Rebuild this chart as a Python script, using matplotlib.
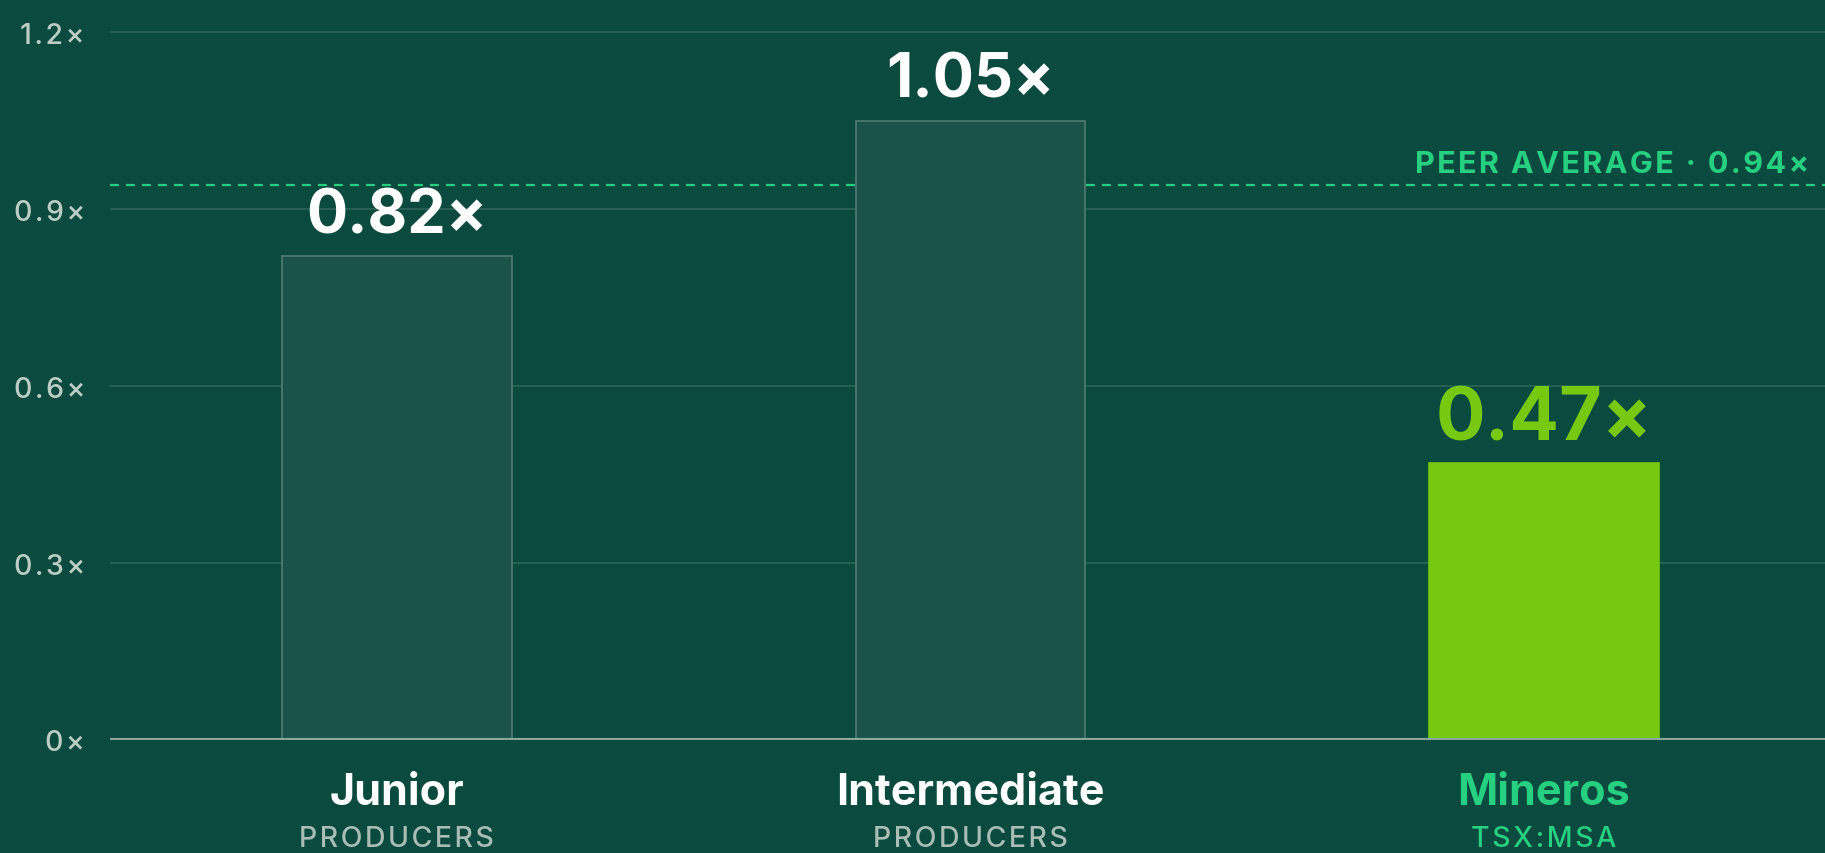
import numpy as np
import matplotlib
matplotlib.use("Agg")
import matplotlib.pyplot as plt

plt.rcParams['font.family'] = ['Inter', 'DejaVu Sans']

# data
categories = ["Junior", "Intermediate", "Mineros"]
sublabels = ["PRODUCERS", "PRODUCERS", "TSX:MSA"]
values = [0.82, 1.05, 0.47]
value_labels = ["0.82×", "1.05×", "0.47×"]
peer_avg = 0.94
yticks = [0, 0.3, 0.6, 0.9, 1.2]
ytick_labels = ["0×", "0.3×", "0.6×", "0.9×", "1.2×"]
highlight = 2

bg = "#0b4a3e"
green = "#76c811"
mint = "#27cf80"
HAIR = "\u200a"


def track(s):
    # poor man's letter spacing
    return HAIR.join(s)


fig = plt.figure(figsize=(18.25, 8.54), dpi=100, facecolor=bg)
ax = fig.add_axes([110/1825, 113/854, 1715/1825, 741/854])
ax.set_facecolor(bg)

x = np.arange(len(categories))
face = ["#1b5249"] * len(categories)
edge = ["#4f7c72"] * len(categories)
face[highlight] = green
edge[highlight] = green
ax.bar(x, values, width=0.4, color=face, edgecolor=edge, linewidth=1.2, zorder=3)

ax.set_xlim(-0.5, 2.49)
ax.set_ylim(0, 1.256)

# grid
for t in yticks[1:]:
    ax.axhline(t, color="#ffffff", alpha=0.12, linewidth=1.5, zorder=1)
ax.axhline(0, color="#8aa79f", linewidth=3, zorder=4)

ax.set_yticks(yticks)
ax.set_yticklabels([track(t) for t in ytick_labels], fontweight="medium")
ax.tick_params(axis='y', length=0, pad=18, labelsize=20.5, labelcolor="#bccdc6")
ax.set_xticks([])
for s in ax.spines.values():
    s.set_visible(False)

# peer average line
ax.axhline(peer_avg, color=mint, linewidth=1.6, linestyle=(0, (4, 3.2)), zorder=2)
ax.annotate(track("PEER AVERAGE · %.2f×" % peer_avg), xy=(0.991, peer_avg),
            xycoords=ax.get_yaxis_transform(), xytext=(0, 10), textcoords="offset points",
            ha="right", va="baseline", fontsize=22, fontweight="bold", color=mint)

# value labels
for i, v in enumerate(values):
    hl = i == highlight
    ax.annotate(value_labels[i], xy=(i, v), xytext=(0, 17), textcoords="offset points",
                ha="center", va="baseline", fontweight="bold",
                fontsize=53 if hl else 44, color=green if hl else "white")

# category labels
trans = ax.get_xaxis_transform()
for i, (c, s) in enumerate(zip(categories, sublabels)):
    hl = i == highlight
    ax.text(i, -0.0864, c, transform=trans, ha="center", va="baseline",
            fontsize=31, fontweight="bold", color=mint if hl else "white")
    ax.text(i, -0.143, track(s), transform=trans, ha="center", va="baseline",
            fontsize=20.5, fontweight="medium", color=mint if hl else "#a9bdb6")

fig.savefig("out.png", dpi=100, facecolor=bg)
